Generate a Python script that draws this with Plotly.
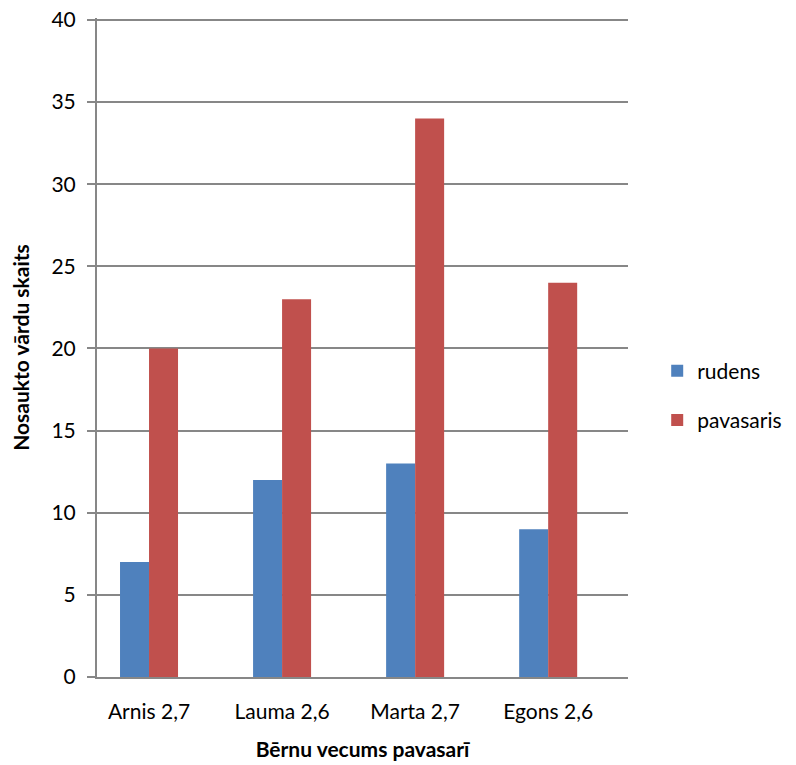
import plotly.graph_objects as go

categories = ["Arnis 2,7", "Lauma 2,6", "Marta 2,7", "Egons 2,6"]
rudens = [7, 12, 13, 9]
pavasaris = [20, 23, 34, 24]
y_ticks = [0, 5, 10, 15, 20, 25, 30, 35, 40]

FONT = "Lato, 'Open Sans', sans-serif"
GRID = "#878787"
FS = 21

fig = go.Figure()
fig.add_trace(go.Bar(x=categories, y=rudens, name="rudens", marker_color="#4F81BD",
                     legendgroup="a", marker_line_width=0))
fig.add_trace(go.Bar(x=categories, y=pavasaris, name="pavasaris", marker_color="#C0504D",
                     legendgroup="b", marker_line_width=0))

# page body has an 8px default margin, so margins are offset by 8px
fig.update_layout(
    width=796, height=765, autosize=False,
    margin=dict(l=89, r=176, t=10, b=96),
    paper_bgcolor="white", plot_bgcolor="white",
    barmode="group", bargap=0.564, bargroupgap=0,
    font=dict(family=FONT, size=FS, color="black"),
    legend=dict(x=1.055, y=0.427, xanchor="left", yanchor="middle",
                font=dict(size=FS), tracegroupgap=19, itemwidth=30),
    xaxis=dict(
        range=[-0.391, 3.6], automargin=False,
        showline=True, linecolor=GRID, linewidth=2,
        showgrid=False, ticks="", ticklabelstandoff=15,
        title=dict(text="<b>Bērnu vecums pavasarī</b>", font=dict(size=FS), standoff=20),
    ),
    yaxis=dict(
        range=[0, 40.12], tickvals=y_ticks, automargin=False,
        showline=True, linecolor=GRID, linewidth=2,
        showgrid=True, gridcolor=GRID, gridwidth=1.5,
        ticks="outside", ticklen=8, tickcolor=GRID, tickwidth=1.5,
        ticklabelstandoff=7, ticklabeloverflow="allow",
        zeroline=False,
        title=dict(text="<b>Nosaukto vārdu skaits</b>", font=dict(size=FS), standoff=18),
    ),
)

fig.write_html("out.html", config={"displayModeBar": False})
